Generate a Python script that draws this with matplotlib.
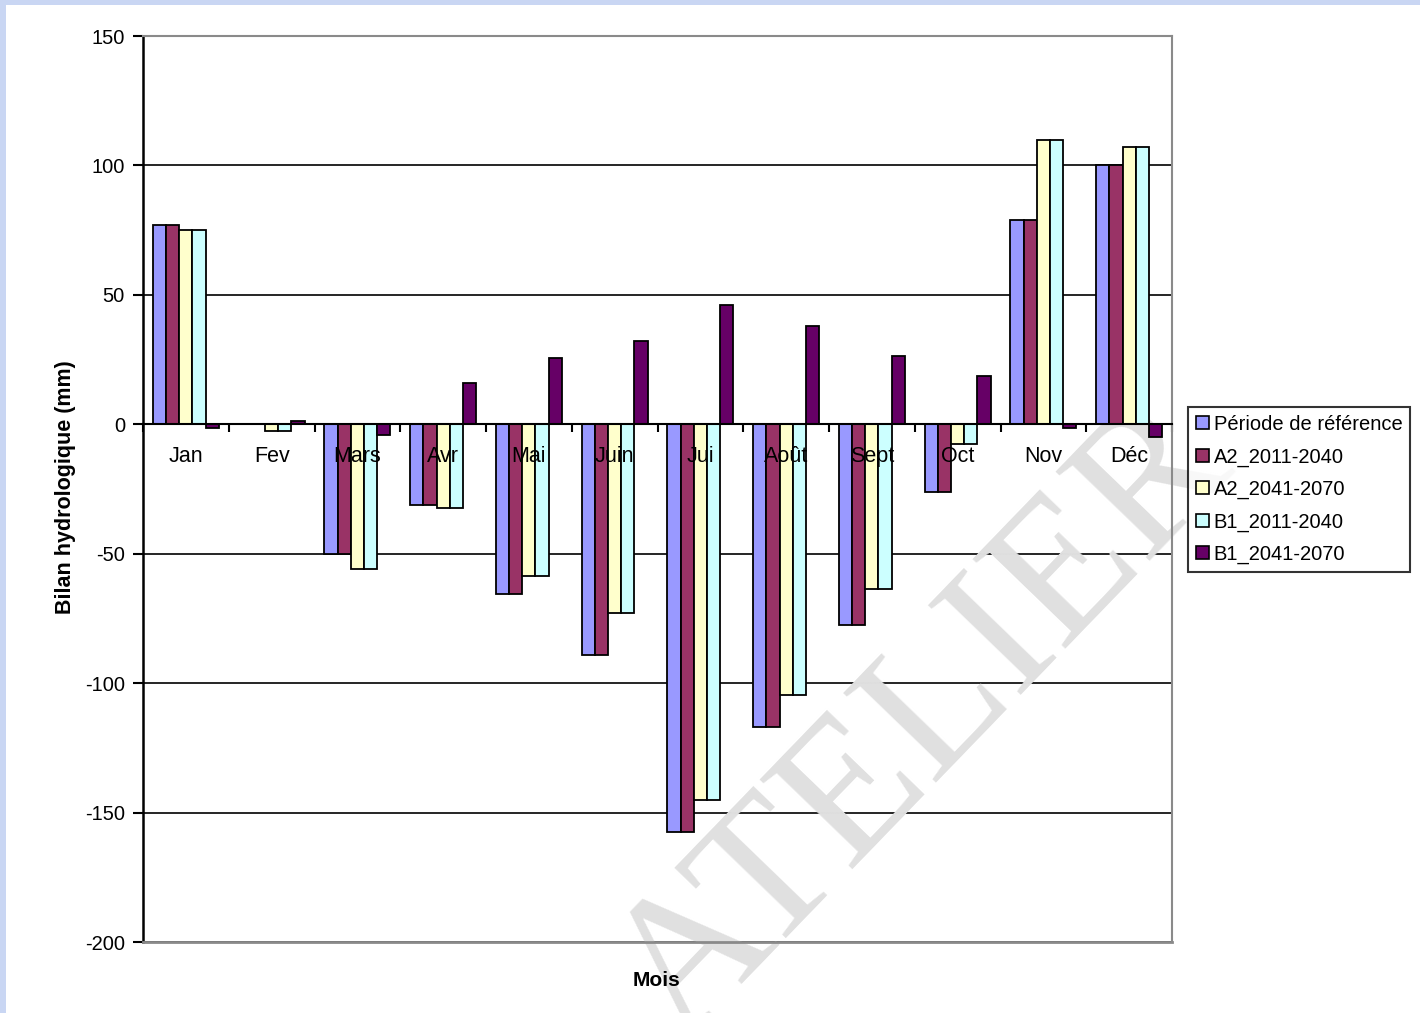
import matplotlib.pyplot as plt
import numpy as np
from matplotlib.patches import Rectangle

plt.rcParams['font.family'] = ['Liberation Sans', 'DejaVu Sans']
plt.rcParams['axes.unicode_minus'] = False

# mois
mois = ['Jan', 'Fev', 'Mars', 'Avr', 'Mai', 'Juin', 'Jui', 'Août', 'Sept', 'Oct', 'Nov', 'Déc']

# bilan hydrologique (mm) par scenario
reference = [77, 0, -50, -31, -65.5, -89, -157.5, -117, -77.5, -26, 79, 100]
a2_2011 = [77, 0, -50, -31, -65.5, -89, -157.5, -117, -77.5, -26, 79, 100]
a2_2041 = [75, -2.5, -56, -32.5, -58.5, -73, -145, -104.5, -63.5, -7.5, 110, 107]
b1_2011 = [75, -2.5, -56, -32.5, -58.5, -73, -145, -104.5, -63.5, -7.5, 110, 107]
b1_2041 = [-1.5, 1.3, -4.2, 16, 25.5, 32, 46, 38, 26.5, 18.7, -1.5, -5]

series = [reference, a2_2011, a2_2041, b1_2011, b1_2041]
noms = ['Période de référence', 'A2_2011-2040', 'A2_2041-2070', 'B1_2011-2040', 'B1_2041-2070']
couleurs = ['#9999FF', '#993366', '#FFFFCC', '#CCFFFF', '#660066']

yticks = [-200, -150, -100, -50, 0, 50, 100, 150]

fig = plt.figure(figsize=(14.2, 10.13), dpi=100)
fig.patch.set_facecolor('#c9d6f3')
# fond blanc de la page
fig.patches.append(Rectangle((6 / 1420, 0), 1, 1 - 5 / 1013, transform=fig.transFigure,
                             facecolor='white', edgecolor='none', zorder=0))

ax = fig.add_axes([143 / 1420, 71 / 1013, 1029 / 1420, 906 / 1013])
ax.set_zorder(2)
ax.set_facecolor('white')

x = np.arange(len(mois))
w = 1 / 6.5
for k, (vals, nom, c) in enumerate(zip(series, noms, couleurs)):
    ax.bar(x + (k - 2) * w, vals, width=w, color=c, edgecolor='black', linewidth=1.3,
           label=nom, zorder=2)

ax.set_xlim(-0.5, len(mois) - 0.5)
ax.set_ylim(-200, 150)
ax.set_yticks(yticks)
ax.set_yticklabels([str(v) for v in yticks], fontsize=14.5)
ax.yaxis.grid(True, color='black', linewidth=1.2, zorder=1)
ax.set_axisbelow(True)
ax.tick_params(axis='y', direction='out', length=7, width=1.5, color='black', pad=6)

# axe des categories sur le zero
ax.spines['bottom'].set_position(('data', 0))
ax.spines['bottom'].set_color('black')
ax.spines['bottom'].set_linewidth(1.5)
ax.set_xticks(np.arange(len(mois) + 1) - 0.5)
ax.set_xticklabels([''] * (len(mois) + 1))
ax.tick_params(axis='x', which='major', direction='out', length=6, width=1.5)

# etiquettes des mois au-dessus des barres
for i, m in enumerate(mois):
    ax.annotate(m, xy=(x[i], 0), xytext=(0, -32), textcoords='offset pixels',
                ha='center', va='center', fontsize=15.5, zorder=6)

ax.spines['left'].set_color('black')
ax.spines['left'].set_linewidth(1.8)
for s in ['top', 'right']:
    ax.spines[s].set_color('#8a8a8a')
    ax.spines[s].set_linewidth(1.5)
ax.axhline(-200, color='#8a8a8a', linewidth=2, clip_on=False, zorder=3)

# filigrane
ax.text(0.76, 0.24, 'ATELIER', transform=ax.transAxes, rotation=46, fontsize=142,
        family=['Liberation Serif', 'DejaVu Serif'], color='#e0e0e0', ha='center', va='center',
        zorder=1.5, clip_on=False, rotation_mode='anchor')

fig.text(65 / 1420, 1 - 487 / 1013, 'Bilan hydrologique (mm)', rotation=90, fontsize=15.5,
         fontweight='bold', ha='center', va='center')
fig.text(657 / 1420, 1 - 980 / 1013, 'Mois', fontsize=15, fontweight='bold', ha='center', va='center')

leg = ax.legend(loc='upper left', bbox_to_anchor=(1188 / 1420, 1 - 407 / 1013),
                bbox_transform=fig.transFigure, fontsize=14.5, frameon=True, fancybox=False,
                borderpad=0.4, handlelength=0.62, handleheight=0.62, handletextpad=0.25,
                labelspacing=0.66, borderaxespad=0)
leg.get_frame().set_edgecolor('black')
leg.get_frame().set_linewidth(1.5)
for h in leg.legend_handles:
    h.set_linewidth(1.2)

plt.savefig('out.png', dpi=100, facecolor=fig.get_facecolor())
